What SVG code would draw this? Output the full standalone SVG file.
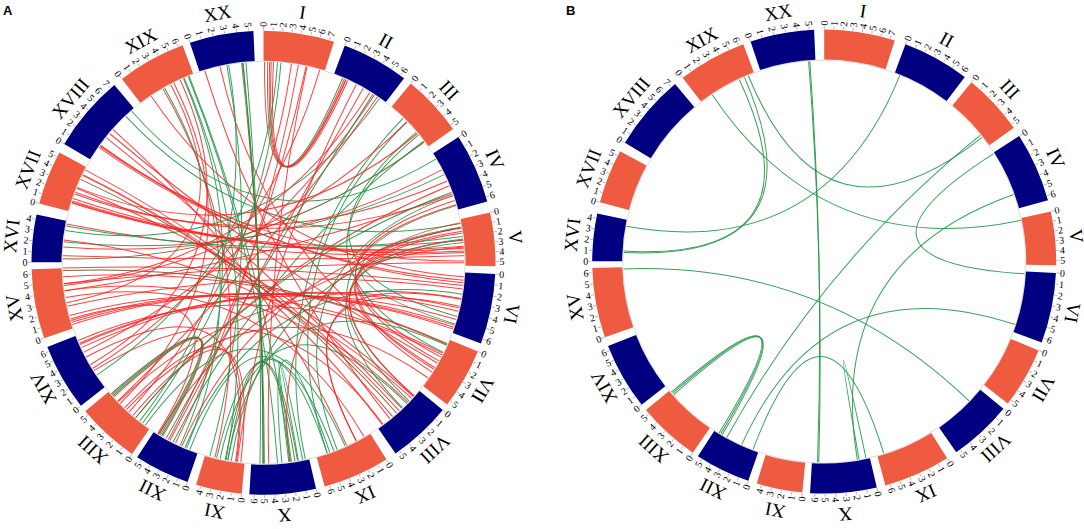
<svg xmlns="http://www.w3.org/2000/svg" width="1084" height="529" viewBox="0 0 1084 529">
<style>
.bo{fill:none;stroke:#EE5B41;stroke-width:30}
.bn{fill:none;stroke:#000080;stroke-width:30}
.nm{font-family:"Liberation Serif","Times New Roman",serif;font-size:19px;text-anchor:middle;fill:#000}
.R text,.L text{font-family:"Liberation Serif","Times New Roman",serif;font-size:10px;dominant-baseline:central;fill:#000}
.R text{text-anchor:start}
.L text{text-anchor:end}
.r{stroke:#FF1F1F;stroke-opacity:.85}
.g{stroke:#23964A;stroke-opacity:.9}
.o{stroke:#6D5B22;stroke-opacity:.9}
.panel{font-family:"Liberation Sans",Arial,sans-serif;font-weight:bold;font-size:13px;fill:#000}
</style>
<defs>
<line id="tR" x1="232.5" x2="235.5" stroke="#8A8A8A" stroke-width="0.6"/>
<line id="tL" x1="-232.5" x2="-235.5" stroke="#8A8A8A" stroke-width="0.6"/>
<path id="h1" d="M-3.51-200.97Q0 0 3.51-200.97"/>
<path id="h2" d="M-7.01-200.88Q0 0 7.01-200.88"/>
<path id="h7" d="M-24.5-199.5Q0 0 24.5-199.5"/>
<path id="h9" d="M-31.44-198.53Q0 0 31.44-198.53"/>
<path id="h10" d="M-34.9-197.95Q0 0 34.9-197.95"/>
<path id="h11" d="M-38.35-197.31Q0 0 38.35-197.31"/>
<path id="h12" d="M-41.79-196.61Q0 0 41.79-196.61"/>
<path id="h14" d="M-48.63-195.03Q0 0 48.63-195.03"/>
<path id="h16" d="M-55.4-193.21Q0 0 55.4-193.21"/>
<path id="h17" d="M-58.77-192.22Q0 0 58.77-192.22"/>
<path id="h18" d="M-62.11-191.16Q0 0 62.11-191.16"/>
<path id="h19" d="M-65.44-190.05Q0 0 65.44-190.05"/>
<path id="h21" d="M-72.03-187.65Q0 0 72.03-187.65"/>
<path id="h23" d="M-78.54-185.02Q0 0 78.54-185.02"/>
<path id="h24" d="M-81.75-183.62Q0 0 81.75-183.62"/>
<path id="h25" d="M-84.95-182.17Q0 0 84.95-182.17"/>
<path id="h26" d="M-88.11-180.66Q0 0 88.11-180.66"/>
<path id="h27" d="M-91.25-179.09Q0 0 91.25-179.09"/>
<path id="h28" d="M-94.36-177.47Q0 0 94.36-177.47"/>
<path id="h29" d="M-97.45-175.8Q0 0 97.45-175.8"/>
<path id="h30" d="M-100.5-174.07Q0 0 100.5-174.07"/>
<path id="h31" d="M-103.52-172.29Q0 0 103.52-172.29"/>
<path id="h32" d="M-106.51-170.46Q0 0 106.51-170.46"/>
<path id="h33" d="M-109.47-168.57Q0 0 109.47-168.57"/>
<path id="h37" d="M-120.97-160.53Q0 0 120.97-160.53"/>
<path id="h38" d="M-123.75-158.39Q0 0 123.75-158.39"/>
<path id="h44" d="M-139.63-144.59Q0 0 139.63-144.59"/>
<path id="h47" d="M-147-137.08Q0 0 147-137.08"/>
<path id="h48" d="M-149.37-134.5Q0 0 149.37-134.5"/>
<path id="h49" d="M-151.7-131.87Q0 0 151.7-131.87"/>
<path id="h50" d="M-153.97-129.2Q0 0 153.97-129.2"/>
<path id="h51" d="M-156.21-126.49Q0 0 156.21-126.49"/>
<path id="h52" d="M-158.39-123.75Q0 0 158.39-123.75"/>
<path id="h53" d="M-160.53-120.97Q0 0 160.53-120.97"/>
<path id="h54" d="M-162.61-118.15Q0 0 162.61-118.15"/>
<path id="h55" d="M-164.65-115.29Q0 0 164.65-115.29"/>
<path id="h56" d="M-166.64-112.4Q0 0 166.64-112.4"/>
<path id="h58" d="M-170.46-106.51Q0 0 170.46-106.51"/>
<path id="h59" d="M-172.29-103.52Q0 0 172.29-103.52"/>
<path id="h61" d="M-175.8-97.45Q0 0 175.8-97.45"/>
<path id="h62" d="M-177.47-94.36Q0 0 177.47-94.36"/>
<path id="h63" d="M-179.09-91.25Q0 0 179.09-91.25"/>
<path id="h64" d="M-180.66-88.11Q0 0 180.66-88.11"/>
<path id="h65" d="M-182.17-84.95Q0 0 182.17-84.95"/>
<path id="h66" d="M-183.62-81.75Q0 0 183.62-81.75"/>
<path id="h67" d="M-185.02-78.54Q0 0 185.02-78.54"/>
<path id="h68" d="M-186.36-75.3Q0 0 186.36-75.3"/>
<path id="h69" d="M-187.65-72.03Q0 0 187.65-72.03"/>
<path id="h70" d="M-188.88-68.75Q0 0 188.88-68.75"/>
<path id="h71" d="M-190.05-65.44Q0 0 190.05-65.44"/>
<path id="h72" d="M-191.16-62.11Q0 0 191.16-62.11"/>
<path id="h73" d="M-192.22-58.77Q0 0 192.22-58.77"/>
<path id="h74" d="M-193.21-55.4Q0 0 193.21-55.4"/>
<path id="h75" d="M-194.15-52.02Q0 0 194.15-52.02"/>
<path id="h76" d="M-195.03-48.63Q0 0 195.03-48.63"/>
<path id="h77" d="M-195.85-45.21Q0 0 195.85-45.21"/>
<path id="h78" d="M-196.61-41.79Q0 0 196.61-41.79"/>
<path id="h79" d="M-197.31-38.35Q0 0 197.31-38.35"/>
<path id="h80" d="M-197.95-34.9Q0 0 197.95-34.9"/>
<path id="h81" d="M-198.53-31.44Q0 0 198.53-31.44"/>
<path id="h82" d="M-199.04-27.97Q0 0 199.04-27.97"/>
<path id="h83" d="M-199.5-24.5Q0 0 199.5-24.5"/>
<path id="h84" d="M-199.9-21.01Q0 0 199.9-21.01"/>
<path id="h85" d="M-200.23-17.52Q0 0 200.23-17.52"/>
<path id="h86" d="M-200.51-14.02Q0 0 200.51-14.02"/>
<path id="h87" d="M-200.72-10.52Q0 0 200.72-10.52"/>
<path id="h88" d="M-200.88-7.01Q0 0 200.88-7.01"/>
<path id="h89" d="M-200.97-3.51Q0 0 200.97-3.51"/>
<g id="ring" fill="#000">
<circle r="201.5" fill="none" stroke="#DCDCDC" stroke-width="1"/>
<g id="cI" transform="rotate(-90)"><circle class="bo" r="217" stroke-dasharray="67.04 2000"/><text class="nm" transform="rotate(8.85) translate(247) rotate(90)">I</text><g class="R"><g><use href="#tR"/><text x="236">0</text></g><g transform="rotate(2.36)"><use href="#tR"/><text x="236">1</text></g><g transform="rotate(4.71)"><use href="#tR"/><text x="236">2</text></g><g transform="rotate(7.07)"><use href="#tR"/><text x="236">3</text></g><g transform="rotate(9.43)"><use href="#tR"/><text x="236">4</text></g><g transform="rotate(11.79)"><use href="#tR"/><text x="236">5</text></g><g transform="rotate(14.14)"><use href="#tR"/><text x="236">6</text></g><g transform="rotate(16.5)"><use href="#tR"/><text x="236">7</text></g></g></g>
<g id="cII" transform="rotate(-69.5)"><circle class="bn" r="217" stroke-dasharray="63.63 2000"/><text class="nm" transform="rotate(8.4) translate(247) rotate(90)">II</text><g class="R"><g><use href="#tR"/><text x="236">0</text></g><g transform="rotate(2.6)"><use href="#tR"/><text x="236">1</text></g><g transform="rotate(5.2)"><use href="#tR"/><text x="236">2</text></g><g transform="rotate(7.8)"><use href="#tR"/><text x="236">3</text></g><g transform="rotate(10.4)"><use href="#tR"/><text x="236">4</text></g><g transform="rotate(13)"><use href="#tR"/><text x="236">5</text></g><g transform="rotate(15.6)"><use href="#tR"/><text x="236">6</text></g></g></g>
<g id="cIII" transform="rotate(-50.6)"><circle class="bo" r="217" stroke-dasharray="58.33 2000"/><text class="nm" transform="rotate(7.7) translate(247) rotate(90)">III</text><g class="R"><g><use href="#tR"/><text x="236">0</text></g><g transform="rotate(2.84)"><use href="#tR"/><text x="236">1</text></g><g transform="rotate(5.68)"><use href="#tR"/><text x="236">2</text></g><g transform="rotate(8.52)"><use href="#tR"/><text x="236">3</text></g><g transform="rotate(11.36)"><use href="#tR"/><text x="236">4</text></g><g transform="rotate(14.2)"><use href="#tR"/><text x="236">5</text></g></g></g>
<g id="cIV" transform="rotate(-32.8)"><circle class="bn" r="217" stroke-dasharray="66.28 2000"/><text class="nm" transform="rotate(8.75) translate(247) rotate(90)">IV</text><g class="R"><g><use href="#tR"/><text x="236">0</text></g><g transform="rotate(2.72)"><use href="#tR"/><text x="236">1</text></g><g transform="rotate(5.43)"><use href="#tR"/><text x="236">2</text></g><g transform="rotate(8.15)"><use href="#tR"/><text x="236">3</text></g><g transform="rotate(10.87)"><use href="#tR"/><text x="236">4</text></g><g transform="rotate(13.58)"><use href="#tR"/><text x="236">5</text></g><g transform="rotate(16.3)"><use href="#tR"/><text x="236">6</text></g></g></g>
<g id="cV" transform="rotate(-12.5)"><circle class="bo" r="217" stroke-dasharray="50.75 2000"/><text class="nm" transform="rotate(6.7) translate(247) rotate(90)">V</text><g class="R"><g><use href="#tR"/><text x="236">0</text></g><g transform="rotate(2.44)"><use href="#tR"/><text x="236">1</text></g><g transform="rotate(4.88)"><use href="#tR"/><text x="236">2</text></g><g transform="rotate(7.32)"><use href="#tR"/><text x="236">3</text></g><g transform="rotate(9.76)"><use href="#tR"/><text x="236">4</text></g><g transform="rotate(12.2)"><use href="#tR"/><text x="236">5</text></g></g></g>
<g id="cVI" transform="rotate(2.8)"><circle class="bn" r="217" stroke-dasharray="66.66 2000"/><text class="nm" transform="rotate(8.8) translate(247) rotate(90)">VI</text><g class="R"><g><use href="#tR"/><text x="236">0</text></g><g transform="rotate(2.73)"><use href="#tR"/><text x="236">1</text></g><g transform="rotate(5.47)"><use href="#tR"/><text x="236">2</text></g><g transform="rotate(8.2)"><use href="#tR"/><text x="236">3</text></g><g transform="rotate(10.93)"><use href="#tR"/><text x="236">4</text></g><g transform="rotate(13.67)"><use href="#tR"/><text x="236">5</text></g><g transform="rotate(16.4)"><use href="#tR"/><text x="236">6</text></g></g></g>
<g id="cVII" transform="rotate(22.5)"><circle class="bo" r="217" stroke-dasharray="57.57 2000"/><text class="nm" transform="rotate(7.6) translate(247) rotate(90)">VII</text><g class="R"><g><use href="#tR"/><text x="236">0</text></g><g transform="rotate(2.8)"><use href="#tR"/><text x="236">1</text></g><g transform="rotate(5.6)"><use href="#tR"/><text x="236">2</text></g><g transform="rotate(8.4)"><use href="#tR"/><text x="236">3</text></g><g transform="rotate(11.2)"><use href="#tR"/><text x="236">4</text></g><g transform="rotate(14)"><use href="#tR"/><text x="236">5</text></g></g></g>
<g id="cVIII" transform="rotate(39.4)"><circle class="bn" r="217" stroke-dasharray="60.22 2000"/><text class="nm" transform="rotate(7.95) translate(247) rotate(90)">VIII</text><g class="R"><g><use href="#tR"/><text x="236">0</text></g><g transform="rotate(2.94)"><use href="#tR"/><text x="236">1</text></g><g transform="rotate(5.88)"><use href="#tR"/><text x="236">2</text></g><g transform="rotate(8.82)"><use href="#tR"/><text x="236">3</text></g><g transform="rotate(11.76)"><use href="#tR"/><text x="236">4</text></g><g transform="rotate(14.7)"><use href="#tR"/><text x="236">5</text></g></g></g>
<g id="cIX" transform="rotate(58)"><circle class="bo" r="217" stroke-dasharray="63.25 2000"/><text class="nm" transform="rotate(8.35) translate(247) rotate(90)">IX</text><g class="R"><g><use href="#tR"/><text x="236">0</text></g><g transform="rotate(2.58)"><use href="#tR"/><text x="236">1</text></g><g transform="rotate(5.17)"><use href="#tR"/><text x="236">2</text></g><g transform="rotate(7.75)"><use href="#tR"/><text x="236">3</text></g><g transform="rotate(10.33)"><use href="#tR"/><text x="236">4</text></g><g transform="rotate(12.92)"><use href="#tR"/><text x="236">5</text></g><g transform="rotate(15.5)"><use href="#tR"/><text x="236">6</text></g></g></g>
<g id="cX"><g transform="rotate(76.9)"><circle class="bn" r="217" stroke-dasharray="62.87 2000"/><text class="nm" transform="rotate(8.3) translate(247) rotate(90)">X</text><g class="R"><g><use href="#tR"/><text x="236">0</text></g><g transform="rotate(2.57)"><use href="#tR"/><text x="236">1</text></g><g transform="rotate(5.13)"><use href="#tR"/><text x="236">2</text></g><g transform="rotate(7.7)"><use href="#tR"/><text x="236">3</text></g><g transform="rotate(10.27)"><use href="#tR"/><text x="236">4</text></g><g transform="rotate(12.83)"><use href="#tR"/><text x="236">5</text></g></g></g><g class="L" transform="rotate(256.9)"><g transform="rotate(15.4)"><use href="#tL"/><text x="-236">6</text></g></g></g>
<g id="cXI"><g transform="rotate(95.4)"><circle class="bo" r="217" stroke-dasharray="43.56 2000"/><text class="nm" transform="rotate(5.75) translate(247) rotate(90)">XI</text></g><g class="L" transform="rotate(275.4)"><g><use href="#tL"/><text x="-236">0</text></g><g transform="rotate(2.58)"><use href="#tL"/><text x="-236">1</text></g><g transform="rotate(5.15)"><use href="#tL"/><text x="-236">2</text></g><g transform="rotate(7.73)"><use href="#tL"/><text x="-236">3</text></g><g transform="rotate(10.3)"><use href="#tL"/><text x="-236">4</text></g></g></g>
<g id="cXII"><g transform="rotate(109.1)"><circle class="bn" r="217" stroke-dasharray="52.65 2000"/><text class="nm" transform="rotate(6.95) translate(247) rotate(90)">XII</text></g><g class="L" transform="rotate(289.1)"><g><use href="#tL"/><text x="-236">0</text></g><g transform="rotate(2.54)"><use href="#tL"/><text x="-236">1</text></g><g transform="rotate(5.08)"><use href="#tL"/><text x="-236">2</text></g><g transform="rotate(7.62)"><use href="#tL"/><text x="-236">3</text></g><g transform="rotate(10.16)"><use href="#tL"/><text x="-236">4</text></g><g transform="rotate(12.7)"><use href="#tL"/><text x="-236">5</text></g></g></g>
<g id="cXIII"><g transform="rotate(124.5)"><circle class="bo" r="217" stroke-dasharray="59.46 2000"/><text class="nm" transform="rotate(7.85) translate(247) rotate(90)">XIII</text></g><g class="L" transform="rotate(304.5)"><g><use href="#tL"/><text x="-236">0</text></g><g transform="rotate(2.9)"><use href="#tL"/><text x="-236">1</text></g><g transform="rotate(5.8)"><use href="#tL"/><text x="-236">2</text></g><g transform="rotate(8.7)"><use href="#tL"/><text x="-236">3</text></g><g transform="rotate(11.6)"><use href="#tL"/><text x="-236">4</text></g><g transform="rotate(14.5)"><use href="#tL"/><text x="-236">5</text></g></g></g>
<g id="cXIV"><g transform="rotate(141.9)"><circle class="bn" r="217" stroke-dasharray="63.63 2000"/><text class="nm" transform="rotate(8.4) translate(247) rotate(90)">XIV</text></g><g class="L" transform="rotate(321.9)"><g><use href="#tL"/><text x="-236">0</text></g><g transform="rotate(2.6)"><use href="#tL"/><text x="-236">1</text></g><g transform="rotate(5.2)"><use href="#tL"/><text x="-236">2</text></g><g transform="rotate(7.8)"><use href="#tL"/><text x="-236">3</text></g><g transform="rotate(10.4)"><use href="#tL"/><text x="-236">4</text></g><g transform="rotate(13)"><use href="#tL"/><text x="-236">5</text></g><g transform="rotate(15.6)"><use href="#tL"/><text x="-236">6</text></g></g></g>
<g id="cXV"><g transform="rotate(161)"><circle class="bo" r="217" stroke-dasharray="65.9 2000"/><text class="nm" transform="rotate(8.7) translate(247) rotate(90)">XV</text></g><g class="L" transform="rotate(341)"><g><use href="#tL"/><text x="-236">0</text></g><g transform="rotate(2.7)"><use href="#tL"/><text x="-236">1</text></g><g transform="rotate(5.4)"><use href="#tL"/><text x="-236">2</text></g><g transform="rotate(8.1)"><use href="#tL"/><text x="-236">3</text></g><g transform="rotate(10.8)"><use href="#tL"/><text x="-236">4</text></g><g transform="rotate(13.5)"><use href="#tL"/><text x="-236">5</text></g><g transform="rotate(16.2)"><use href="#tL"/><text x="-236">6</text></g></g></g>
<g id="cXVI"><g transform="rotate(180.1)"><circle class="bn" r="217" stroke-dasharray="45.07 2000"/><text class="nm" transform="rotate(5.95) translate(247) rotate(90)">XVI</text></g><g class="L" transform="rotate(0.1)"><g><use href="#tL"/><text x="-236">0</text></g><g transform="rotate(2.68)"><use href="#tL"/><text x="-236">1</text></g><g transform="rotate(5.35)"><use href="#tL"/><text x="-236">2</text></g><g transform="rotate(8.03)"><use href="#tL"/><text x="-236">3</text></g><g transform="rotate(10.7)"><use href="#tL"/><text x="-236">4</text></g></g></g>
<g id="cXVII"><g transform="rotate(194.8)"><circle class="bo" r="217" stroke-dasharray="51.51 2000"/><text class="nm" transform="rotate(6.8) translate(247) rotate(90)">XVII</text></g><g class="L" transform="rotate(14.8)"><g><use href="#tL"/><text x="-236">0</text></g><g transform="rotate(2.48)"><use href="#tL"/><text x="-236">1</text></g><g transform="rotate(4.96)"><use href="#tL"/><text x="-236">2</text></g><g transform="rotate(7.44)"><use href="#tL"/><text x="-236">3</text></g><g transform="rotate(9.92)"><use href="#tL"/><text x="-236">4</text></g><g transform="rotate(12.4)"><use href="#tL"/><text x="-236">5</text></g></g></g>
<g id="cXVIII"><g transform="rotate(210.8)"><circle class="bn" r="217" stroke-dasharray="72.72 2000"/><text class="nm" transform="rotate(9.6) translate(247) rotate(90)">XVIII</text></g><g class="L" transform="rotate(30.8)"><g><use href="#tL"/><text x="-236">0</text></g><g transform="rotate(2.57)"><use href="#tL"/><text x="-236">1</text></g><g transform="rotate(5.14)"><use href="#tL"/><text x="-236">2</text></g><g transform="rotate(7.71)"><use href="#tL"/><text x="-236">3</text></g><g transform="rotate(10.29)"><use href="#tL"/><text x="-236">4</text></g><g transform="rotate(12.86)"><use href="#tL"/><text x="-236">5</text></g><g transform="rotate(15.43)"><use href="#tL"/><text x="-236">6</text></g><g transform="rotate(18)"><use href="#tL"/><text x="-236">7</text></g></g></g>
<g id="cXIX"><g transform="rotate(232.4)"><circle class="bo" r="217" stroke-dasharray="65.14 2000"/><text class="nm" transform="rotate(8.6) translate(247) rotate(90)">XIX</text></g><g class="L" transform="rotate(52.4)"><g><use href="#tL"/><text x="-236">0</text></g><g transform="rotate(2.67)"><use href="#tL"/><text x="-236">1</text></g><g transform="rotate(5.33)"><use href="#tL"/><text x="-236">2</text></g><g transform="rotate(8)"><use href="#tL"/><text x="-236">3</text></g><g transform="rotate(10.67)"><use href="#tL"/><text x="-236">4</text></g><g transform="rotate(13.33)"><use href="#tL"/><text x="-236">5</text></g><g transform="rotate(16)"><use href="#tL"/><text x="-236">6</text></g></g></g>
<g id="cXX"><g transform="rotate(251.5)"><circle class="bn" r="217" stroke-dasharray="60.6 2000"/><text class="nm" transform="rotate(8) translate(247) rotate(90)">XX</text></g><g class="L" transform="rotate(71.5)"><g><use href="#tL"/><text x="-236">0</text></g><g transform="rotate(2.96)"><use href="#tL"/><text x="-236">1</text></g><g transform="rotate(5.92)"><use href="#tL"/><text x="-236">2</text></g><g transform="rotate(8.88)"><use href="#tL"/><text x="-236">3</text></g><g transform="rotate(11.84)"><use href="#tL"/><text x="-236">4</text></g><g transform="rotate(14.8)"><use href="#tL"/><text x="-236">5</text></g></g></g>
</g>
</defs>
<rect width="1084" height="529" fill="#fff"/>
<text class="panel" x="3" y="15">A</text>
<text class="panel" x="566" y="15">B</text>
<g id="links-A" transform="translate(263.5,262.7)" fill="none" stroke-width="1">
<use href="#h12" transform="rotate(12.3)" class="r"/>
<use href="#h11" transform="rotate(12.75)" class="r"/>
<use href="#h11" transform="rotate(13.2)" class="r"/>
<use href="#h11" transform="rotate(12.2)" class="g"/>
<use href="#h11" transform="rotate(13.85)" class="r"/>
<use href="#h73" transform="rotate(295)" class="r"/>
<use href="#h82" transform="rotate(288)" class="r"/>
<use href="#h69" transform="rotate(307.25)" class="r"/>
<use href="#h83" transform="rotate(95.5)" class="r"/>
<use href="#h58" transform="rotate(337.25)" class="g"/>
<use href="#h75" transform="rotate(318.5)" class="r"/>
<use href="#h84" transform="rotate(310.5)" class="r"/>
<use href="#h88" transform="rotate(121)" class="g"/>
<use href="#h71" transform="rotate(342.1)" class="o"/>
<use href="#h77" transform="rotate(129.75)" class="g"/>
<use href="#h33" transform="rotate(83.5)" class="g"/>
<use href="#h28" transform="rotate(77.5)" class="g"/>
<use href="#h50" transform="rotate(9)" class="g"/>
<use href="#h74" transform="rotate(348.5)" class="r"/>
<use href="#h74" transform="rotate(350)" class="g"/>
<use href="#h68" transform="rotate(358)" class="r"/>
<use href="#h84" transform="rotate(346)" class="r"/>
<use href="#h23" transform="rotate(95)" class="r"/>
<use href="#h23" transform="rotate(96.25)" class="r"/>
<use href="#h30" transform="rotate(103.5)" class="g"/>
<use href="#h76" transform="rotate(143.5)" class="r"/>
<use href="#h75" transform="rotate(144.5)" class="g"/>
<use href="#h61" transform="rotate(17.75)" class="g"/>
<use href="#h21" transform="rotate(101)" class="r"/>
<use href="#h21" transform="rotate(102)" class="r"/>
<use href="#h25" transform="rotate(106.5)" class="r"/>
<use href="#h24" transform="rotate(107.5)" class="r"/>
<use href="#h14" transform="rotate(93.75)" class="g"/>
<use href="#h26" transform="rotate(110.25)" class="g"/>
<use href="#h78" transform="rotate(5.5)" class="r"/>
<use href="#h79" transform="rotate(6.3)" class="r"/>
<use href="#h79" transform="rotate(6.9)" class="r"/>
<use href="#h79" transform="rotate(7.65)" class="r"/>
<use href="#h83" transform="rotate(4.1)" class="r"/>
<use href="#h81" transform="rotate(1.5)" class="g"/>
<use href="#h88" transform="rotate(0)" class="r"/>
<use href="#h72" transform="rotate(17.5)" class="r"/>
<use href="#h63" transform="rotate(148.5)" class="r"/>
<use href="#h53" transform="rotate(136.25)" class="g"/>
<use href="#h87" transform="rotate(177)" class="r"/>
<use href="#h64" transform="rotate(30)" class="r"/>
<use href="#h75" transform="rotate(20)" class="r"/>
<use href="#h75" transform="rotate(20.75)" class="r"/>
<use href="#h86" transform="rotate(182.5)" class="r"/>
<use href="#h80" transform="rotate(177.5)" class="r"/>
<use href="#h52" transform="rotate(151)" class="g"/>
<use href="#h63" transform="rotate(163.25)" class="r"/>
<use href="#h26" transform="rotate(126.5)" class="r"/>
<use href="#h25" transform="rotate(127.5)" class="r"/>
<use href="#h71" transform="rotate(174)" class="r"/>
<use href="#h71" transform="rotate(175)" class="r"/>
<use href="#h70" transform="rotate(176.4)" class="r"/>
<use href="#h72" transform="rotate(180.1)" class="r"/>
<use href="#h72" transform="rotate(180.75)" class="r"/>
<use href="#h72" transform="rotate(181.3)" class="r"/>
<use href="#h77" transform="rotate(190.75)" class="o"/>
<use href="#h76" transform="rotate(190)" class="r"/>
<use href="#h38" transform="rotate(152.25)" class="g"/>
<use href="#h69" transform="rotate(185.75)" class="r"/>
<use href="#h65" transform="rotate(182.25)" class="r"/>
<use href="#h85" transform="rotate(35)" class="r"/>
<use href="#h67" transform="rotate(54.5)" class="r"/>
<use href="#h49" transform="rotate(174)" class="r"/>
<use href="#h80" transform="rotate(211.75)" class="r"/>
<use href="#h72" transform="rotate(204.5)" class="r"/>
<use href="#h64" transform="rotate(198)" class="r"/>
<use href="#h29" transform="rotate(163.5)" class="g"/>
<use href="#h86" transform="rotate(222.5)" class="r"/>
<use href="#h78" transform="rotate(216.5)" class="o"/>
<use href="#h78" transform="rotate(218)" class="r"/>
<use href="#h79" transform="rotate(62)" class="r"/>
<use href="#h47" transform="rotate(190.5)" class="r"/>
<use href="#h76" transform="rotate(219.75)" class="r"/>
<use href="#h55" transform="rotate(205)" class="r"/>
<use href="#h78" transform="rotate(233.5)" class="r"/>
<use href="#h30" transform="rotate(186)" class="g"/>
<use href="#h44" transform="rotate(114.5)" class="g"/>
<use href="#h21" transform="rotate(180.5)" class="g"/>
<use href="#h58" transform="rotate(103.5)" class="g"/>
<use href="#h16" transform="rotate(177.5)" class="g"/>
<use href="#h62" transform="rotate(106)" class="g"/>
<use href="#h2" transform="rotate(170.75)" class="g"/>
<use href="#h1" transform="rotate(171)" class="g"/>
<use href="#h10" transform="rotate(180.25)" class="g"/>
<use href="#h10" transform="rotate(181)" class="o"/>
<use href="#h47" transform="rotate(125.5)" class="r"/>
<use href="#h7" transform="rotate(167.75)" class="g"/>
<use href="#h87" transform="rotate(266.75)" class="g"/>
<use href="#h87" transform="rotate(267.2)" class="g"/>
<use href="#h87" transform="rotate(267.05)" class="o"/>
<use href="#h87" transform="rotate(268)" class="g"/>
<use href="#h81" transform="rotate(257)" class="g"/>
<use href="#h80" transform="rotate(107.5)" class="r"/>
<use href="#h27" transform="rotate(215)" class="r"/>
<use href="#h73" transform="rotate(263.75)" class="g"/>
<use href="#h68" transform="rotate(262)" class="r"/>
<use href="#h77" transform="rotate(272.5)" class="g"/>
<use href="#h17" transform="rotate(203.5)" class="r"/>
<use href="#h18" transform="rotate(205.75)" class="r"/>
<use href="#h66" transform="rotate(270.5)" class="g"/>
<use href="#h89" transform="rotate(118.75)" class="r"/>
<use href="#h82" transform="rotate(290.25)" class="r"/>
<use href="#h64" transform="rotate(266.5)" class="g"/>
<use href="#h21" transform="rotate(232.75)" class="r"/>
<use href="#h9" transform="rotate(219.5)" class="g"/>
<use href="#h9" transform="rotate(219.9)" class="g"/>
<use href="#h9" transform="rotate(219.15)" class="r"/>
<use href="#h9" transform="rotate(220.3)" class="o"/>
<use href="#h74" transform="rotate(291)" class="g"/>
<use href="#h64" transform="rotate(300)" class="g"/>
<use href="#h48" transform="rotate(287.5)" class="r"/>
<use href="#h54" transform="rotate(279.5)" class="r"/>
<use href="#h37" transform="rotate(295.5)" class="r"/>
<use href="#h71" transform="rotate(334.5)" class="r"/>
<use href="#h64" transform="rotate(328)" class="r"/>
<use href="#h59" transform="rotate(351)" class="r"/>
<use href="#h70" transform="rotate(0.5)" class="r"/>
<use href="#h66" transform="rotate(284)" class="g"/>
<use href="#h83" transform="rotate(255.25)" class="g"/>
<use href="#h80" transform="rotate(217.5)" class="r"/>
<use href="#h62" transform="rotate(142)" class="r"/>
</g>
<g id="links-B" transform="translate(824.2,261.6)" fill="none" stroke-width="1">
<use href="#h87" transform="rotate(268.55)" class="g"/>
<use href="#h87" transform="rotate(268.9)" class="g"/>
<use href="#h31" transform="rotate(304)" class="g"/>
<use href="#h32" transform="rotate(304.6)" class="g"/>
<use href="#h56" transform="rotate(22.15)" class="g"/>
<use href="#h37" transform="rotate(14.8)" class="g"/>
<use href="#h18" transform="rotate(75.5)" class="g"/>
<use href="#h79" transform="rotate(130)" class="g"/>
<use href="#h50" transform="rotate(120.5)" class="g"/>
<use href="#h67" transform="rotate(200.9)" class="g"/>
<use href="#h48" transform="rotate(156.25)" class="g"/>
<use href="#h19" transform="rotate(181.75)" class="g"/>
<use href="#h1" transform="rotate(169)" class="g"/>
<use href="#h9" transform="rotate(219.5)" class="g"/>
<use href="#h9" transform="rotate(220)" class="g"/>
<use href="#h9" transform="rotate(220.5)" class="g"/>
<use href="#h51" transform="rotate(331.1)" class="g"/>
</g>
<use id="ringA" href="#ring" transform="translate(263.5,262.7)"/>
<use id="ringB" href="#ring" transform="translate(824.2,261.6)"/>
</svg>
